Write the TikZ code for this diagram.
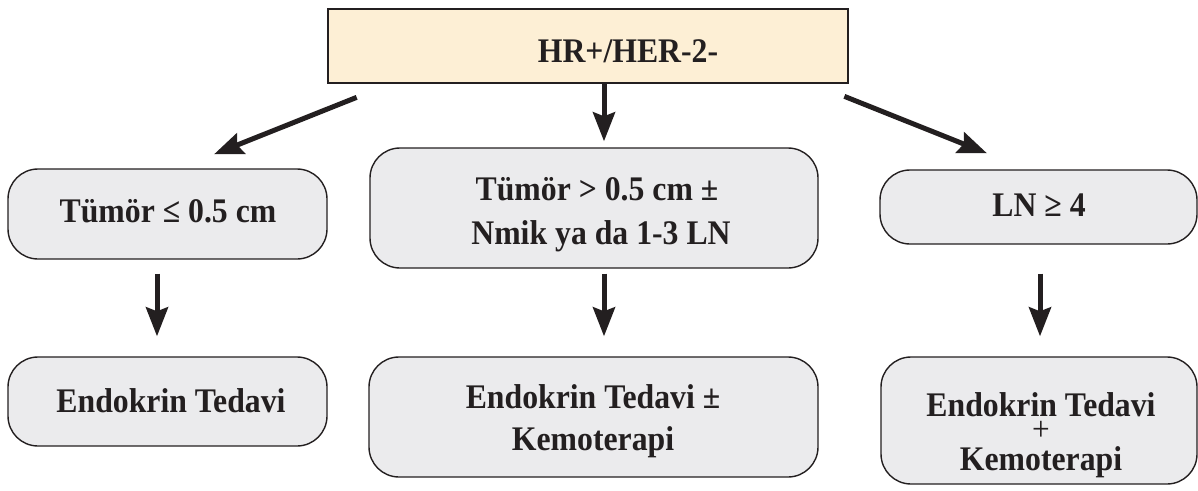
\documentclass[tikz,border=0pt]{standalone}
\usepackage{fontspec}
\setmainfont{Liberation Serif}
\newfontfamily\lblfont[FakeStretch=0.92]{Liberation Serif}
\usetikzlibrary{arrows.meta,calc}

\definecolor{inkc}{HTML}{231F20}
\definecolor{headfill}{HTML}{FDEFD5}
\definecolor{stepfill}{HTML}{EBEBED}

\begin{document}
\begin{tikzpicture}[x=1pt,y=-1pt,
  headbox/.style={draw=inkc,line width=2.7pt,fill=headfill,inner sep=0pt},
  stepbox/.style={draw=inkc,line width=1.4pt,fill=stepfill,rounded corners=30pt,inner sep=0pt},
  lbl/.style={anchor=base,inner sep=0pt,text=inkc,font=\lblfont\fontsize{34.5}{40}\selectfont\bfseries},
  flow/.style={draw=inkc,line width=5pt,-{Stealth[length=29pt,width=22pt,inset=4pt]}}
]
\useasboundingbox (0,0) rectangle (1198,490);

% boxes
\node[headbox,minimum width=520pt,minimum height=74pt] (b0) at (588,46) {};
\node[stepbox,minimum width=319pt,minimum height=90pt] (b1) at (167.5,214) {};
\node[stepbox,minimum width=448pt,minimum height=120pt] (b2) at (594,208) {};
\node[stepbox,minimum width=317pt,minimum height=74pt] (b3) at (1038.5,207) {};
\node[stepbox,minimum width=319pt,minimum height=89pt] (b4) at (167.5,401.5) {};
\node[stepbox,minimum width=449pt,minimum height=120pt] (b5) at (593.5,417) {};
\node[stepbox,minimum width=316pt,minimum height=127pt] (b6) at (1039,420.5) {};

% texts
\node[lbl] (t0) at (628,62) {HR+/HER-2-};
\node[lbl] (t1) at (168,222) {Tümör ≤ 0.5 cm};
\node[lbl] (t2a) at (597,200) {Tümör > 0.5 cm ±};
\node[lbl] (t2b) at (601,244) {Nmik ya da 1-3 LN};
\node[lbl] (t3) at (1039,216) {LN ≥ 4};
\node[lbl] (t4) at (171,412) {Endokrin Tedavi};
\node[lbl] (t5a) at (593,408) {Endokrin Tedavi ±};
\node[lbl] (t5b) at (593,450) {Kemoterapi};
\node[lbl,align=center,font=\lblfont\fontsize{34.5}{27}\selectfont\bfseries,anchor=center]
  (t6) at (1041,435) {Endokrin Tedavi\\[-3pt]{\mdseries\fontsize{34}{27}\selectfont +}\\[3pt]Kemoterapi};

% connectors
\draw[flow] ($(b0.south west)+(30,13)$) -- ($(b1.north)+(46.5,-14)$);
\draw[flow] ($(b0.south)+(16,0)$) -- ($(b2.north)+(10,-6)$);
\draw[flow] ($(b0.south east)+(-5,12)$) -- ($(b3.north)+(-51.5,-16)$);
\draw[flow] ($(b1.south)+(-10.5,14)$) -- ($(b4.north)+(-10.5,-20)$);
\draw[flow] ($(b2.south)+(10,5)$) -- ($(b5.north)+(10.5,-20)$);
\draw[flow] ($(b3.south)+(1.5,29)$) -- ($(b6.north)+(1,-20)$);
\end{tikzpicture}
\end{document}
